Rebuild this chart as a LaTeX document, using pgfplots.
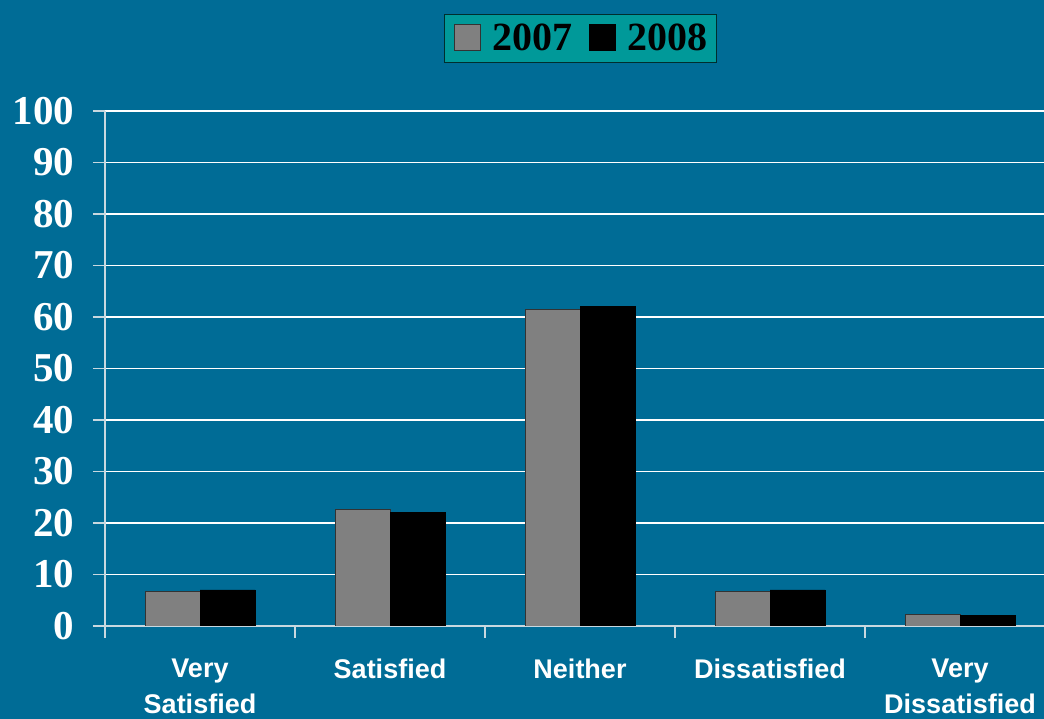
\documentclass[border=0pt]{standalone}
\usepackage{fontspec}
\setmainfont{Liberation Serif}
\newfontfamily\arialf{Liberation Sans}
\usepackage{pgfplots}
\pgfplotsset{compat=1.18}
\definecolor{bgblue}{RGB}{0,108,150}
\definecolor{legteal}{RGB}{0,153,153}
\definecolor{axline}{RGB}{200,216,224}
\definecolor{bargray}{RGB}{128,128,128}
\begin{document}
\begin{tikzpicture}[x=1pt,y=1pt]
\fill[bgblue] (0,0) rectangle (1044,719);
\begin{axis}[
  at={(105pt,93pt)}, anchor=south west,
  scale only axis, width=950pt, height=515pt,
  xmin=-0.5, xmax=4.5, ymin=0, ymax=100,
  ybar=0pt, bar width=55pt,
  ytick={0,10,...,100},
  xtick={-0.5,0.5,...,4.5},
  x tick label as interval,
  xticklabels={{Very\\Satisfied},{Satisfied},{Neither},{Dissatisfied},{Very\\Dissatisfied}},
  xticklabel style={font=\fontsize{27}{36}\selectfont\arialf\bfseries, text=white, align=center, anchor=north, yshift=-17pt},
  yticklabel style={font=\fontsize{41}{41}\selectfont\bfseries, text=white, xshift=-15pt},
  /pgf/number format/assume math mode=true,
  tick align=outside, major tick length=12pt,
  xtick pos=bottom, ytick pos=left,
  tick style={axline, line width=1.2pt},
  axis line style={axline, line width=1.5pt},
  axis x line*=bottom, axis y line*=left,
  ymajorgrids, grid style={white, line width=1.2pt},
  legend style={at={(rel axis cs:0.5,1.1417)}, anchor=center, fill=legteal, draw=black!70!legteal, line width=0.8pt,
    font=\fontsize{40}{40}\selectfont\bfseries, legend columns=2, inner xsep=4pt, inner ysep=8pt,
    nodes={inner xsep=5pt},
    /tikz/every even column/.append style={column sep=6pt}},
  legend image code/.code={\draw[#1] (0pt,-12pt) rectangle (26pt,14pt); \path[draw=none,fill=none] (-6pt,-12pt) rectangle (33pt,14pt);},
]
\addplot[fill=bargray, draw=black!80, line width=0.8pt] coordinates {(0,6.7) (1,22.7) (2,61.4) (3,6.7) (4,2.3)};
\addplot[fill=black, draw=black, line width=0.8pt] coordinates {(0,7.0) (1,22.1) (2,62.1) (3,7.0) (4,2.1)};
\legend{2007,2008}
\end{axis}
\pgfresetboundingbox
\path (0,0) rectangle (1044,719);
\end{tikzpicture}
\end{document}
